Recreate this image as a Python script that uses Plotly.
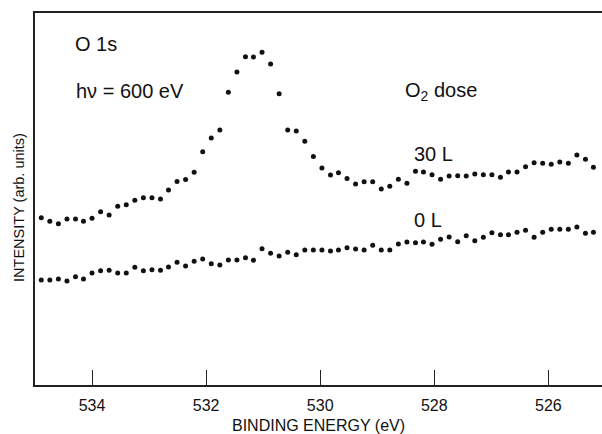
import plotly.graph_objects as go

# Binding energy (eV) of each sample point
energy = [534.89, 534.74, 534.59, 534.44, 534.29, 534.15, 534.00, 533.85, 533.70, 533.55,
          533.40, 533.25, 533.10, 532.95, 532.80, 532.66, 532.51, 532.36, 532.21, 532.06,
          531.91, 531.76, 531.61, 531.46, 531.31, 531.17, 531.02, 530.87, 530.72, 530.57,
          530.42, 530.27, 530.12, 529.97, 529.82, 529.68, 529.53, 529.38, 529.23, 529.08,
          528.93, 528.78, 528.63, 528.48, 528.33, 528.19, 528.04, 527.89, 527.74, 527.59,
          527.44, 527.29, 527.14, 526.99, 526.84, 526.70, 526.55, 526.40, 526.25, 526.10,
          525.95, 525.80, 525.65, 525.50, 525.35, 525.21]

# Intensity (arb. units), 30 L O2 dose
intensity_30L = [167.3, 163.7, 161.3, 166, 166, 163.7, 166.7, 173.3, 170, 178.7,
                 180.3, 184.7, 187.3, 187.3, 186, 195, 203.5, 205.5, 212.7, 233.2,
                 247, 255, 292.7, 313, 328.3, 328, 332.7, 321, 291.3, 255,
                 254, 243.7, 228.5, 217, 210, 212.3, 206.5, 201, 203.3, 203.3,
                 196, 198.7, 205.7, 201.7, 213.7, 213, 210.3, 205.7, 209, 209.3,
                 209, 211, 210.3, 210.3, 207.7, 213, 213, 218.3, 222.3, 221.7,
                 220.7, 223, 221.7, 230, 225.7, 217.7]

# Intensity (arb. units), 0 L (clean)
intensity_0L = [105, 105, 106, 104, 108.3, 106, 112, 114.3, 114.7, 112,
                112, 117.7, 114.3, 115.3, 114.7, 118, 122.7, 119, 123.7, 126,
                121.3, 120, 125, 125, 127.3, 124.7, 136.3, 131.7, 129, 132.7,
                130.3, 135, 135, 135, 134, 135, 137.3, 136, 135, 139.7,
                135, 135, 141, 143, 142.3, 143, 140.7, 145.7, 148, 143.3,
                149.3, 144.3, 147.7, 152.3, 150.3, 150.3, 152.7, 154.7, 147.7, 152.7,
                155.7, 155.7, 155.7, 158, 151.7, 152.7]

tick_vals = [534, 532, 530, 528, 526]
tick_text = ["534", "532", "530", "528", "526"]

FONT = "Liberation Sans, Arial, Helvetica, sans-serif"
INK = "#111111"

fig = go.Figure()
for ys in (intensity_30L, intensity_0L):
    fig.add_trace(go.Scatter(x=energy, y=ys, mode="markers",
                             marker=dict(color=INK, size=5, line=dict(width=0)),
                             showlegend=False, hoverinfo="skip"))

annos = [
    dict(text="O 1s", x=534.33, y=341, size=20),
    dict(text="hν = 600 eV", x=534.31, y=294.5, size=20),
    dict(text="O<sub>2</sub> dose", x=528.55, y=294, size=20),
    dict(text="30 L", x=528.39, y=231.5, size=20),
    dict(text="0 L", x=528.39, y=165, size=20),
]
for a in annos:
    fig.add_annotation(text=a["text"], x=a["x"], y=a["y"], xref="x", yref="y",
                       xanchor="left", yanchor="middle", showarrow=False,
                       font=dict(family=FONT, size=a["size"], color=INK))

fig.add_annotation(text="INTENSITY (arb. units)", xref="paper", yref="paper",
                   x=0, xshift=-16, y=0.476, textangle=-90, showarrow=False,
                   xanchor="center", yanchor="middle",
                   font=dict(family=FONT, size=14.5, color=INK))
fig.add_annotation(text="BINDING ENERGY (eV)", xref="paper", yref="paper",
                   x=0.5, y=-0.108, showarrow=False, xanchor="center", yanchor="middle",
                   font=dict(family=FONT, size=16, color=INK))

fig.update_layout(
    width=602, height=434,
    margin=dict(l=35, r=0, t=13, b=49),
    paper_bgcolor="white", plot_bgcolor="white",
    font=dict(family=FONT, color=INK),
    xaxis=dict(range=[535, 525.06], tickvals=tick_vals, ticktext=tick_text,
               ticks="inside", ticklen=15, tickwidth=1.3, tickcolor="#222",
               showline=True, linecolor="#222", linewidth=1.5, mirror=True,
               showgrid=False, zeroline=False, ticklabelstandoff=5,
               tickfont=dict(family=FONT, size=16, color=INK)),
    yaxis=dict(range=[0, 372], showticklabels=False, ticks="",
               showline=True, linecolor="#222", linewidth=1.5,
               showgrid=False, zeroline=False),
)

fig.write_html("out.html")
